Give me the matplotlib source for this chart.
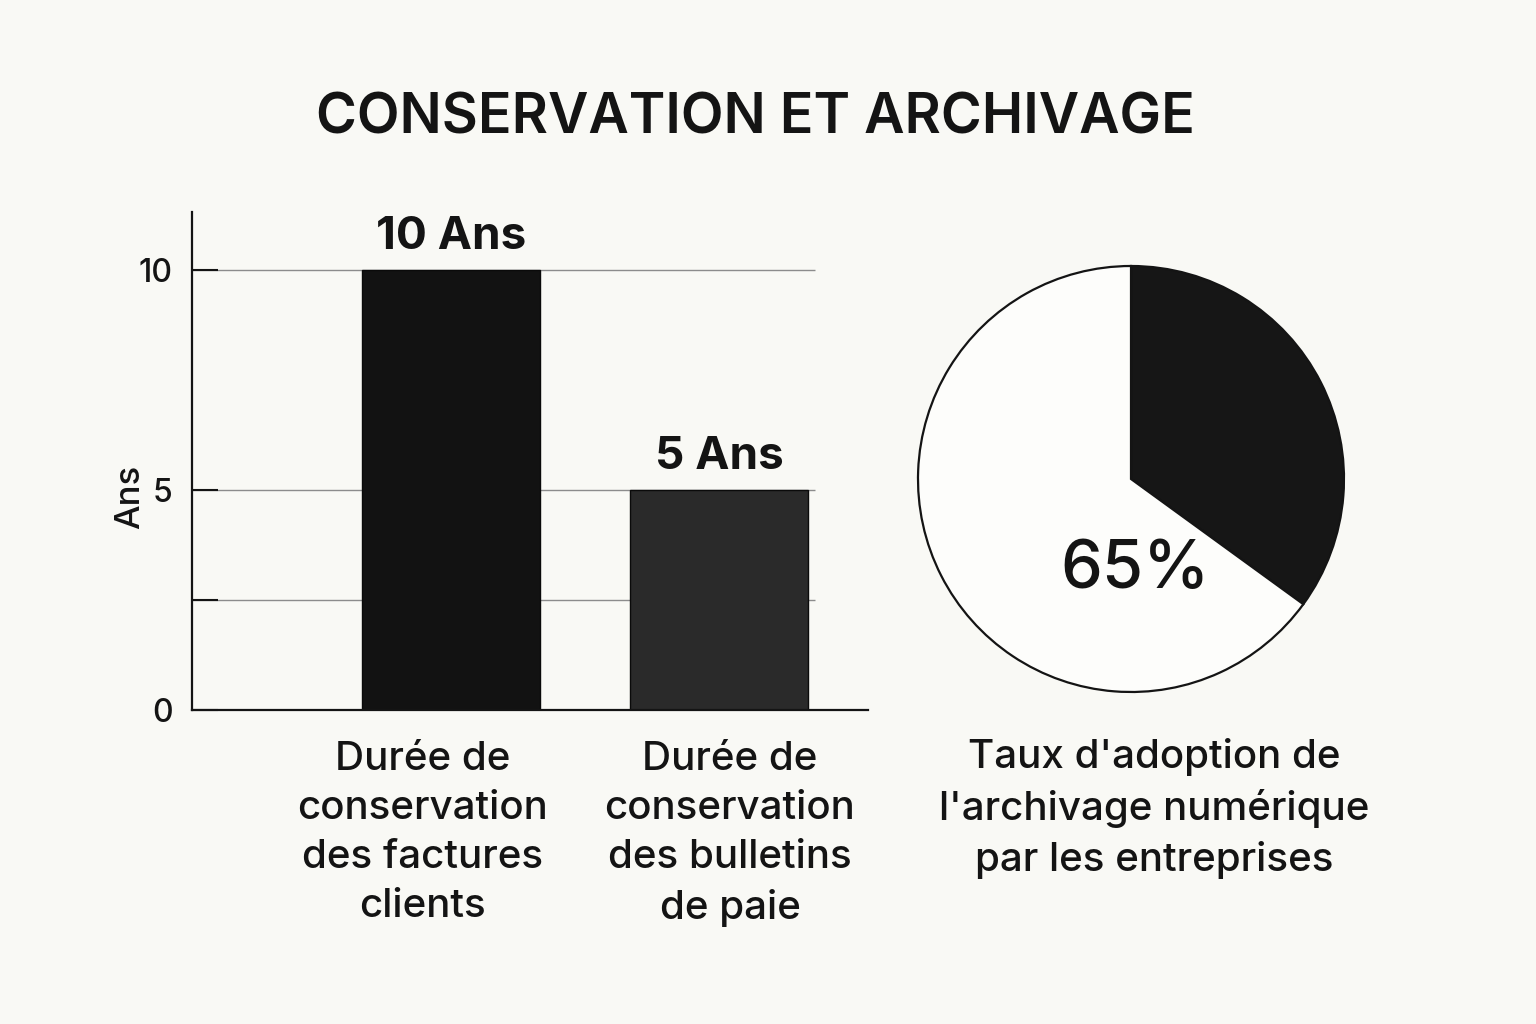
import matplotlib
matplotlib.use("Agg")
import matplotlib.pyplot as plt
from matplotlib.transforms import ScaledTranslation

# chart content
title = "CONSERVATION ET ARCHIVAGE"
bar_labels = ["Durée de\nconservation\ndes factures\nclients",
              "Durée de\nconservation\ndes bulletins\nde paie"]
bar_years = [10, 5]
y_ticks = [0, 5, 10]
y_minor = [2.5]
pie_label = "Taux d'adoption de\nl'archivage numérique\npar les entreprises"
pie_values = [35, 65]  # non numérique, numérique
pie_text = "65%"

plt.rcParams['font.family'] = ['Inter', 'DejaVu Sans']

BG = '#f9f9f5'
INK = '#141414'
W, H = 1536, 1024

fig = plt.figure(figsize=(W / 100, H / 100), dpi=100, facecolor=BG)

# bar chart
ax = fig.add_axes([192 / W, 1 - 710 / H, 676 / W, 498 / H])
ax.set_facecolor('none')
xpos = [0, 1]
bars = ax.bar(xpos, bar_years, width=0.664, color=['#121212', '#2a2a2a'],
              edgecolor='#0a0a0a', linewidth=1, zorder=2)
ax.set_xlim(-0.966, 1.556)
ax.set_ylim(0, 11.32)
ax.hlines(y_ticks[1:] + y_minor, -0.966, 1.358, color='#8c8c8c', lw=1, zorder=1)

for side in ['top', 'right']:
    ax.spines[side].set_visible(False)
for side in ['left', 'bottom']:
    ax.spines[side].set_linewidth(1.6)
    ax.spines[side].set_color(INK)

ax.set_yticks(y_ticks)
ax.set_yticks(y_minor, minor=True)
ax.tick_params(axis='y', which='both', direction='in', length=19, width=1.5,
               color=INK, pad=14, labelsize=23, labelcolor=INK)
ax.set_xticks(xpos, bar_labels)
ax.tick_params(axis='x', length=0, pad=22, labelsize=29, labelcolor=INK)
# the category captions sit a little off the bar centres
shifts = [-28, 11]
for lab, dx in zip(ax.get_xticklabels(), shifts):
    lab.set_fontweight('medium')
    lab.set_linespacing(1.42)
    lab.set_transform(lab.get_transform() + ScaledTranslation(dx / 100, 0, fig.dpi_scale_trans))
for lab in ax.get_yticklabels():
    lab.set_fontweight('medium')

ax.set_ylabel("Ans", fontsize=25, fontweight='medium', color=INK)
ax.yaxis.set_label_coords(-0.068, 0.428)

ax.bar_label(bars, labels=[f"{v} Ans" for v in bar_years], padding=9,
             fontsize=33, fontweight='bold', color=INK)

# pie chart
R = 213
cx, cy = 1131, 479
box = 220
pax = fig.add_axes([(cx - box) / W, 1 - (cy + box) / H, 2 * box / W, 2 * box / H])
pax.pie(pie_values, colors=['#161616', '#fdfdfb'], startangle=90, counterclock=False,
        radius=1, wedgeprops=dict(edgecolor=INK, linewidth=1.6))
lim = box / R
pax.set_xlim(-lim, lim)
pax.set_ylim(-lim, lim)
pax.set_aspect('equal')
pax.text(0.02, -0.43, pie_text, ha='center', va='center', fontsize=48,
         fontweight='medium', color=INK)

fig.text(1154 / W, 1 - 738 / H, pie_label, ha='center', va='top', fontsize=29,
         fontweight='medium', color=INK, linespacing=1.42)

fig.text(755 / W, 1 - 133 / H, title, ha='center', va='baseline', fontsize=40,
         fontweight='semibold', color=INK)

fig.savefig('out.png', dpi=100, facecolor=BG)
